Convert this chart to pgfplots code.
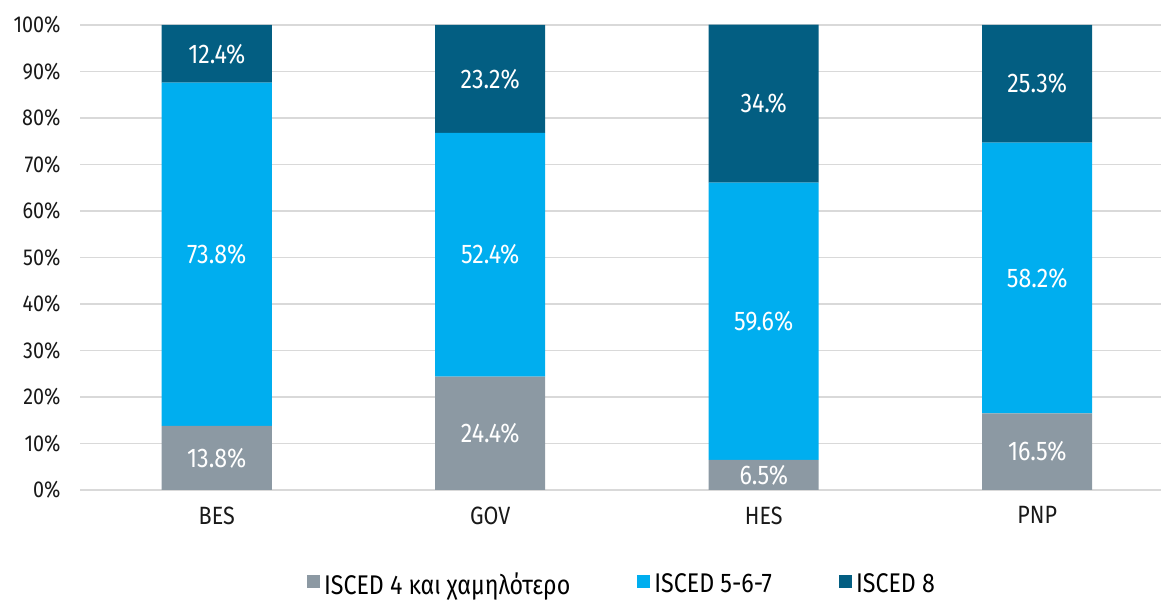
\documentclass[border=0pt]{standalone}
\usepackage{fontspec}
\setmainfont{Fira Sans}[FakeStretch=0.86]
\usepackage{pgfplots}
\usepackage{pgfplotstable}
\pgfplotsset{compat=1.18}

\definecolor{iscedlow}{HTML}{8C99A3}
\definecolor{iscedmid}{HTML}{00AEEF}
\definecolor{iscedtop}{HTML}{035E82}
\definecolor{gridgray}{HTML}{D9D9D9}

% shares of researchers by ISCED level, per sector
\pgfplotstableread{
x a    b    c    la   lb   lc
0 13.8 73.8 12.4 13.8 73.8 12.4
1 24.4 52.4 23.2 24.4 52.4 23.2
2 6.5  59.6 34.0 6.5  59.6 34.
3 16.5 58.2 25.3 16.5 58.2 25.3
}\shares

\newcommand{\tickfont}{\fontsize{23bp}{27bp}\selectfont}
\newcommand{\catfont}{\fontsize{25bp}{29bp}\selectfont}
\newcommand{\bigfont}{\fontsize{27bp}{31bp}\selectfont}

\pgfplotsset{
  base/.style={
    scale only axis,
    width=1094bp, height=465bp,
    at={(80bp,111bp)}, anchor=south west,
    xmin=-0.5, xmax=3.5,
    ymin=0, ymax=100,
  },
}

\begin{document}
\begin{tikzpicture}
\useasboundingbox (0,0) rectangle (1161bp,601bp);
\begin{axis}[
  base,
  ybar stacked,
  bar width=110bp,
  axis line style={draw=none},
  major tick length=0pt,
  ymajorgrids,
  major grid style={gridgray, line width=1.5bp},
  xtick={0,1,2,3},
  xticklabels={BES,GOV,HES,PNP},
  ytick={0,10,...,100},
  yticklabel={\pgfmathprintnumber{\tick}\%},
  /pgf/number format/assume math mode=true,
  tick label style={text=black!90},
  xticklabel style={font=\catfont, yshift=-13bp},
  yticklabel style={font=\tickfont, xshift=-16bp},
  legend columns=3,
  legend style={draw=none, font=\bigfont, at={(0.4963,-0.202)}, anchor=center,
    inner xsep=0pt,
    nodes={inner xsep=4bp},
    /tikz/every even column/.append style={column sep=63bp}},
  legend image code/.code={\fill[#1] (0bp,-4bp) rectangle (13bp,9bp);},
]
\addplot[fill=iscedlow, draw=none] table[x=x, y=a] {\shares};
\addplot[fill=iscedmid, draw=none] table[x=x, y=b] {\shares};
\addplot[fill=iscedtop, draw=none] table[x=x, y=c] {\shares};
\legend{ISCED 4 και χαμηλότερο, ISCED 5-6-7, ISCED 8}
\end{axis}

\begin{axis}[
  base,
  hide axis,
  nodes near coords={\pgfplotspointmeta\%},
  point meta=explicit symbolic,
  every node near coord/.append style={anchor=center, text=white, font=\bigfont},
]
\addplot[draw=none, mark=none] table[x=x, y expr=\thisrow{a}/2, meta=la] {\shares};
\addplot[draw=none, mark=none] table[x=x, y expr=\thisrow{a}+\thisrow{b}/2, meta=lb] {\shares};
\addplot[draw=none, mark=none] table[x=x, y expr=\thisrow{a}+\thisrow{b}+\thisrow{c}/2, meta=lc] {\shares};
\end{axis}
\end{tikzpicture}
\end{document}
